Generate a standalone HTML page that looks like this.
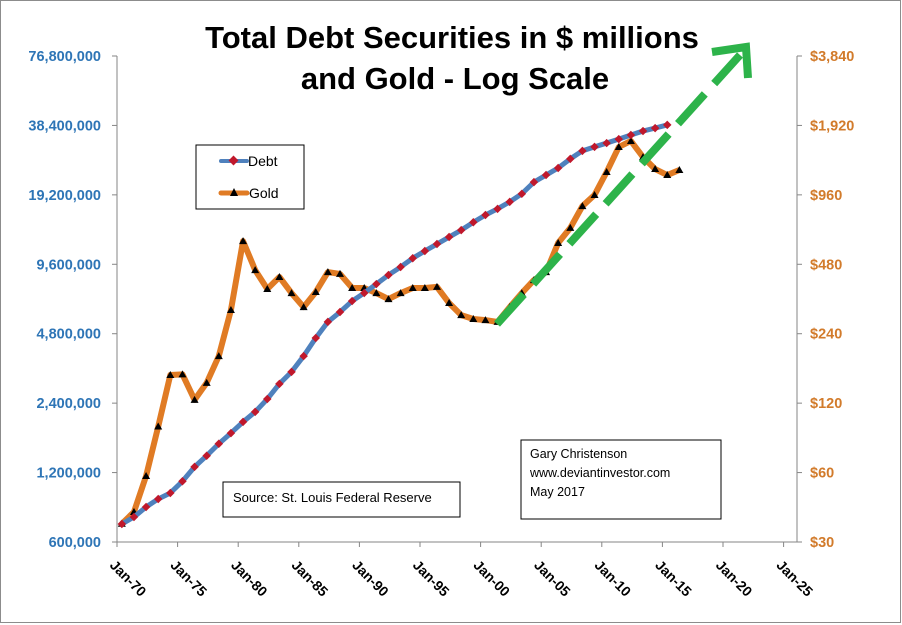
<!DOCTYPE html>
<html><head><meta charset="utf-8"><style>
html,body{margin:0;padding:0;background:#fff;}
svg{display:block;font-family:"Liberation Sans",sans-serif;}
</style></head><body>
<svg id="chart" width="902" height="625" viewBox="0 0 902 625">
<rect x="0.5" y="0.5" width="900" height="622" fill="#fff" stroke="#8c8c8c"/>
<text x="452" y="48" text-anchor="middle" font-size="31" font-weight="bold" fill="#000">Total Debt Securities in $ millions</text>
<text x="455" y="89" text-anchor="middle" font-size="31" font-weight="bold" fill="#000">and Gold - Log Scale</text>
<g id="axes"></g>
<g id="series"></g>
<rect x="196" y="145" width="108" height="64" fill="#fff" stroke="#000"/>
<g>
<line x1="221" y1="161" x2="247" y2="161" stroke="#4f81bd" stroke-width="4" stroke-linecap="round"/>
<rect x="230" y="157" width="7" height="7" fill="#c0182c" transform="rotate(45 233.5 160.5)"/>
<text x="248" y="166" font-size="14" fill="#000">Debt</text>
</g>
<g>
<line x1="221" y1="193" x2="247" y2="193" stroke="#e07b24" stroke-width="5" stroke-linecap="round"/>
<path d="M234,188 L238,196 L230,196Z" fill="#000"/>
<text x="249" y="198" font-size="14" fill="#000">Gold</text>
</g>
<rect x="223" y="482" width="237" height="35" fill="#fff" stroke="#000"/>
<text x="233" y="502" font-size="13" fill="#000">Source:  St. Louis Federal Reserve</text>
<rect x="521" y="440" width="200" height="79" fill="#fff" stroke="#000"/>
<text font-size="12.5" fill="#000"><tspan x="530" y="458">Gary Christenson</tspan><tspan x="530" y="477">www.deviantinvestor.com</tspan><tspan x="530" y="496">May 2017</tspan></text>
<g>
<line x1="497" y1="324" x2="740" y2="55" stroke="#2db34a" stroke-width="8" stroke-dasharray="40 14"/>
<polyline points="712,52 746,47 748,78" fill="none" stroke="#2db34a" stroke-width="8" stroke-linejoin="miter"/>
</g>
</svg>
<script>
const years=[1970,1971,1972,1973,1974,1975,1976,1977,1978,1979,1980,1981,1982,1983,1984,1985,1986,1987,1988,1989,1990,1991,1992,1993,1994,1995,1996,1997,1998,1999,2000,2001,2002,2003,2004,2005,2006,2007,2008,2009,2010,2011,2012,2013,2014,2015,2016];
const debtValues=[718000,770000,851000,922000,979000,1100000,1270000,1420000,1600000,1780000,1990000,2200000,2500000,2910000,3280000,3840000,4600000,5400000,5960000,6650000,7210000,7880000,8630000,9340000,10200000,10960000,11750000,12600000,13500000,14600000,15700000,16700000,17900000,19400000,21800000,23400000,25100000,27500000,29800000,31000000,32200000,33500000,34900000,36300000,37400000,38600000];
const goldValues=[36,40.5,58,95,159,160,124,147,192,304,605,453,375,423,360,313,364,444,436,379,379,360,339,360,379,379,383,326,289,278,275,270,313,360,410,444,594,690,858,959,1206,1548,1644,1400,1242,1170,1230];
const leftTicks=[600000,1200000,2400000,4800000,9600000,19200000,38400000,76800000];
const leftTickLabels=["600,000","1,200,000","2,400,000","4,800,000","9,600,000","19,200,000","38,400,000","76,800,000"];
const rightTicks=[30,60,120,240,480,960,1920,3840];
const rightTickLabels=["$30","$60","$120","$240","$480","$960","$1,920","$3,840"];
const xTickYears=[1970,1975,1980,1985,1990,1995,2000,2005,2010,2015,2020,2025];
const xTickLabels=["Jan-70","Jan-75","Jan-80","Jan-85","Jan-90","Jan-95","Jan-00","Jan-05","Jan-10","Jan-15","Jan-20","Jan-25"];

const NS="http://www.w3.org/2000/svg";
const X0=117,XR=797,YB=542,YT=56;
const xs=y=>X0+(y-1970)*12.12;
const xp=y=>xs(y+0.4);
const yL=v=>YB-(Math.log2(v/600000)/7)*(YB-YT);
const yR=v=>YB-(Math.log2(v/30)/7)*(YB-YT);
function mk(tag,attrs,parent){const e=document.createElementNS(NS,tag);for(const k in attrs)e.setAttribute(k,attrs[k]);parent.appendChild(e);return e;}
const axes=document.getElementById('axes'),ser=document.getElementById('series');

let e=mk('line',{x1:X0,y1:YT,x2:X0,y2:YB,stroke:'#868686'},axes);


e=mk('line',{x1:XR,y1:YT,x2:XR,y2:YB,stroke:'#868686'},axes);


e=mk('line',{x1:X0-5,y1:YB,x2:XR,y2:YB,stroke:'#868686'},axes);



leftTicks.forEach((v,i)=>{const y=yL(v);
 mk('line',{x1:X0-5,y1:y,x2:X0,y2:y,stroke:'#868686'},axes);
 const t=mk('text',{x:X0-16,y:y+5,'text-anchor':'end','font-size':'14.5','font-weight':'bold',fill:'#2e75b6'},axes);
 t.textContent=leftTickLabels[i];
 
 
});
rightTicks.forEach((v,i)=>{const y=yR(v);
 mk('line',{x1:XR,y1:y,x2:XR+5,y2:y,stroke:'#868686'},axes);
 const t=mk('text',{x:XR+13,y:y+5,'font-size':'14.5','font-weight':'bold',fill:'#d27b2b'},axes);
 t.textContent=rightTickLabels[i];
 
 
});
xTickYears.forEach((yr,i)=>{const x=xs(yr);
 mk('line',{x1:x,y1:YB,x2:x,y2:YB+5,stroke:'#868686'},axes);
 const t=mk('text',{x:x-8,y:YB+24,'font-size':'14','font-weight':'bold',fill:'#000',transform:`rotate(45 ${x-8} ${YB+24})`},axes);
 t.textContent=xTickLabels[i];
 
 
});

const dPts=debtValues.map((v,i)=>[xp(years[i]),yL(v)]);
const gPts=goldValues.map((v,i)=>[xp(years[i]),yR(v)]);
e=mk('polyline',{points:gPts.map(p=>p.join(',')).join(' '),fill:'none',stroke:'#e07b24','stroke-width':6,'stroke-linejoin':'round'},ser);


gPts.forEach(p=>{const m=mk('path',{d:`M${p[0]},${p[1]-4}L${p[0]+4},${p[1]+3}L${p[0]-4},${p[1]+3}Z`,fill:'#000'},ser);
 
 });
e=mk('polyline',{points:dPts.map(p=>p.join(',')).join(' '),fill:'none',stroke:'#4f81bd','stroke-width':5,'stroke-linejoin':'round'},ser);


dPts.forEach(p=>{const m=mk('rect',{x:p[0]-3,y:p[1]-3,width:6,height:6,fill:'#c0182c',transform:`rotate(45 ${p[0]} ${p[1]})`},ser);
 
 });
</script>
</body></html>
